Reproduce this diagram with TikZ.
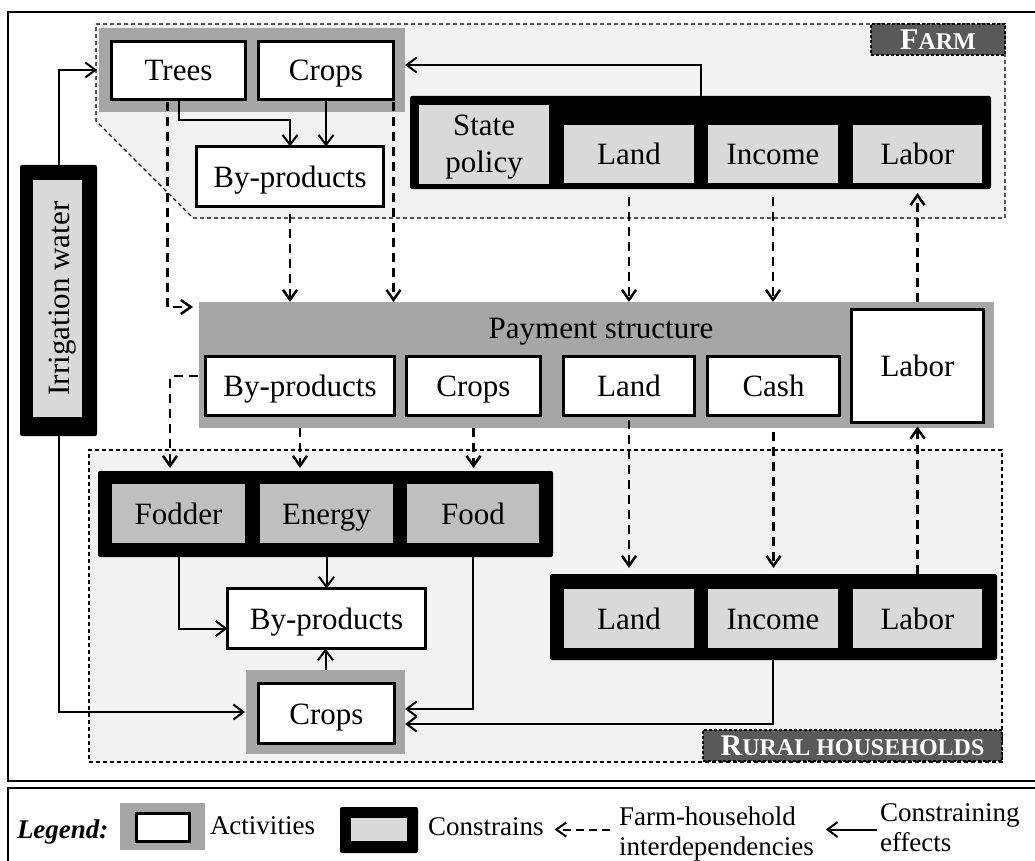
\documentclass[tikz,border=0pt]{standalone}
\usepackage{fontspec}
\setmainfont{Liberation Serif}
\usetikzlibrary{arrows.meta,calc}
\definecolor{actgray}{HTML}{A6A6A6}
\definecolor{congray}{HTML}{D9D9D9}
\definecolor{contwo}{HTML}{BFBFBF}
\definecolor{regfill}{HTML}{F2F2F2}
\definecolor{labgray}{HTML}{595959}
\begin{document}
\begin{tikzpicture}[x=1pt,y=-1pt,
  every node/.style={inner sep=0pt, outer sep=0pt, font=\fontsize{31}{37}\selectfont},
  txt/.style={text height=21pt, text depth=0pt},
  act/.style={draw=black, fill=white, line width=3pt, txt},
  actgrp/.style={fill=actgray},
  congrp/.style={fill=black, rounded corners=2pt},
  con/.style={fill=congray, txt},
  contwobox/.style={fill=contwo, txt},
  region/.style={fill=regfill, draw=black, line width=1.1pt, dash pattern=on 4pt off 3pt},
  reglabel/.style={fill=labgray, draw=black, line width=1.1pt, dash pattern=on 3pt off 2pt, text=white},
  arr/.style={draw=black, line width=2pt, -{Straight Barb[length=10pt,width=15pt]}},
  darr/.style={draw=black, line width=2.5pt, dash pattern=on 9pt off 6pt, -{Straight Barb[length=10pt,width=14pt]}},
  legtxt/.style={font=\fontsize{27}{30}\selectfont},
  frame/.style={draw=black, line width=2.2pt}
]
\useasboundingbox (0,0) rectangle (1035,861);
% frames
\draw[frame] (8,12) rectangle (1050,781);
\draw[frame] (8,788) rectangle (1050,880);

% regions
\draw[region] (96,24) -- (1005,24) -- (1005,218) -- (193,218) -- (96,121) -- cycle;
\node[region, minimum width=913pt, minimum height=312pt] (rural) at (545.5,606) {};
\node[reglabel, minimum width=134pt, minimum height=31pt] (farmlab) at (938,39.5)
  {\bfseries\fontsize{30}{30}\selectfont F\fontsize{24}{24}\selectfont ARM};
\node[reglabel, minimum width=299pt, minimum height=31pt] (rurallab) at (852.5,745.5)
  {\bfseries\fontsize{30}{30}\selectfont R\fontsize{24}{24}\selectfont URAL HOUSEHOLDS};

% farm activities
\node[actgrp, minimum width=306pt, minimum height=84pt] (agF) at (252,70) {};
\node[act, minimum width=134pt, minimum height=58pt] (Trees) at (178.5,70.5) {Trees};
\node[act, minimum width=135pt, minimum height=58pt] (CropsF) at (326,70.5) {Crops};
\node[act, minimum width=187pt, minimum height=60pt] (ByF) at (290,176.5) {By-products};

% farm constraints
\node[congrp, minimum width=581pt, minimum height=93pt] (cgF) at (700.5,142.5) {};
\node[con, minimum width=130pt, minimum height=79pt] (State) at (484,144.5) {};
\node[anchor=base, align=center, font=\fontsize{31}{37}\selectfont] (Statetxt) at (484,173) {State\\policy};
\node[con, minimum width=130pt, minimum height=58pt] (LandF) at (629,154) {Land};
\node[con, minimum width=130pt, minimum height=58pt] (IncomeF) at (773,154) {Income};
\node[con, minimum width=129pt, minimum height=58pt] (LaborF) at (917.5,154) {Labor};

% irrigation
\node[congrp, minimum width=77pt, minimum height=271pt] (irrg) at (58.5,300.5) {};
\node[con, minimum width=49pt, minimum height=237pt] (irr) at (57.5,298.5) {};
\node[rotate=90, txt] (irrtxt) at (59,298.5) {Irrigation water};

% payment structure
\node[actgrp, minimum width=795pt, minimum height=126pt] (pay) at (596.5,365) {};
\node[anchor=base] (paytxt) at (601,338) {Payment structure};
\node[act, minimum width=189pt, minimum height=59pt] (ByP) at (300,386) {By-products};
\node[act, minimum width=134pt, minimum height=59pt] (CropsP) at (473.5,386) {Crops};
\node[act, minimum width=131pt, minimum height=59pt] (LandP) at (629,386) {Land};
\node[act, minimum width=132pt, minimum height=59pt] (CashP) at (773.5,386) {Cash};
\node[act, minimum width=132pt, minimum height=113pt] (LaborP) at (917.5,366) {Labor};

% household constraints 1
\node[congrp, minimum width=455pt, minimum height=86pt] (cgH) at (325.5,514) {};
\node[contwobox, minimum width=133pt, minimum height=59pt] (Fodder) at (178.5,513.5) {Fodder};
\node[contwobox, minimum width=133pt, minimum height=59pt] (Energy) at (326.5,513.5) {Energy};
\node[contwobox, minimum width=132pt, minimum height=59pt] (Food) at (473,513.5) {Food};

% household activities
\node[act, minimum width=198pt, minimum height=60pt] (ByH) at (326.5,618.5) {By-products};
\node[actgrp, minimum width=159pt, minimum height=84pt] (agH) at (325.5,712) {};
\node[act, minimum width=136pt, minimum height=60pt] (CropsH) at (326.5,713.5) {Crops};

% household constraints 2
\node[congrp, minimum width=447pt, minimum height=86pt] (cgR) at (773.5,617) {};
\node[con, minimum width=130pt, minimum height=59pt] (LandH) at (629,618.5) {Land};
\node[con, minimum width=130pt, minimum height=59pt] (IncomeH) at (773,618.5) {Income};
\node[con, minimum width=129pt, minimum height=59pt] (LaborH) at (917.5,618.5) {Labor};

% solid connectors
\draw[arr] (cgF.north) |- ([yshift=5pt]agF.east);
\draw[arr] (irrg.north) |- ([xshift=-2pt]agF.west);
\draw[arr] (irrg.south) |- ([xshift=-1pt]agH.west);
\draw[arr] (Trees.south) -- ++(0,21) -| (ByF.north);
\draw[arr] (CropsF.south) -- (CropsF.south |- ByF.north);
\draw[arr] (Fodder.south |- cgH.south) |- ([yshift=-10pt]ByH.west);
\draw[arr] (Energy.south |- cgH.south) -- (Energy.south |- ByH.north);
\draw[arr] (Food.south |- cgH.south) |- ([yshift=3pt]agH.east);
\draw[arr] (IncomeH.south |- cgR.south) |- ([yshift=-12pt]agH.east);
\draw[arr] (agH.north) -- (agH.north |- ByH.south);

% dashed connectors
\draw[darr] ($(Trees.south)+(-11,3)$) |- ($(pay.north west)+(-6,5)$);
\draw[darr] ($(ByF.south)+(0,7)$) -- (ByF.south |- pay.north);
\draw[darr] ($(CropsF.south east)+(0,3)$) -- (CropsF.south east |- pay.north);
\draw[darr] ($(LandF.south |- cgF.south)+(0,8)$) -- (LandF.south |- pay.north);
\draw[darr] ($(IncomeF.south |- cgF.south)+(0,8)$) -- (IncomeF.south |- pay.north);
\draw[darr, shorten >=4pt] (LaborP.north |- pay.north) -- (LaborP.north |- cgF.south);
\draw[darr] ($(ByP.west)+(-8,-10)$) -| ($(cgH.north west)+(72,-3)$);
\draw[darr] (ByP.south |- pay.south) -- ($(ByP.south |- cgH.north)+(0,-3)$);
\draw[darr] (CropsP.south |- pay.south) -- ($(CropsP.south |- cgH.north)+(0,-3)$);
\draw[darr] ($(LandP.south)+(0,4)$) -- ($(LandP.south |- cgR.north)+(0,-6)$);
\draw[darr] ($(CashP.south |- pay.south)+(0,4)$) -- ($(CashP.south |- cgR.north)+(0,-6)$);
\draw[darr, shorten >=4pt] (LaborP.south |- cgR.north) -- (LaborP.south);

% legend
\node[anchor=base west, font=\fontsize{27}{30}\selectfont\bfseries\itshape] (legtitle) at (17,838) {Legend:};
\node[actgrp, minimum width=85pt, minimum height=47pt] (legAg) at (162.5,826.5) {};
\node[act, minimum width=53pt, minimum height=28pt] (legA) at (163,827.5) {};
\node[legtxt, anchor=base west] (legAt) at (210,834) {Activities};
\node[congrp, minimum width=78pt, minimum height=46pt] (legCg) at (379,830) {};
\node[con, minimum width=56pt, minimum height=23pt] (legC) at (379,829.5) {};
\node[legtxt, anchor=base west] (legCt) at (428,835) {Constrains};
\node[legtxt, anchor=north west, align=left] (legF) at (619,806.5) {Farm-household\\interdependencies};
\node[legtxt, anchor=north west, align=left] (legE) at (880,803.5) {Constraining\\effects};
\draw[darr, dash pattern=on 8pt off 5pt, line width=2pt] ($(legF.west |- legC.center)+(-9,0)$) -- ($(legCt.east |- legC.center)+(11,0)$);
\draw[arr] ($(legE.west |- legC.center)+(-3,0)$) -- ($(legF.east |- legC.center)+(12,0)$);
\end{tikzpicture}
\end{document}
